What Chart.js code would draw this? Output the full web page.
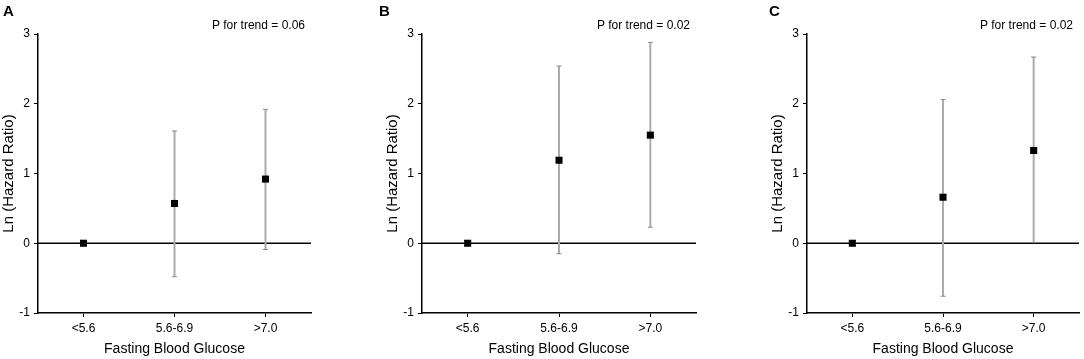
<!DOCTYPE html>
<html>
<head>
<meta charset="utf-8">
<script src="https://cdn.jsdelivr.net/npm/chart.js@4.4.1/dist/chart.umd.min.js"></script>
<style>
  body { margin: 0; background: #fff; width: 1084px; height: 359px; position: relative; overflow: hidden; }
  .panel { position: absolute; top: 0; width: 384px; height: 359px; }
  .letter { position: absolute; top: 2px; font: bold 15px 'Liberation Sans', Arial, sans-serif; color: #000; }
</style>
</head>
<body>
<div class="panel" style="left:0"><canvas id="chartA"></canvas></div>
<div class="panel" style="left:384px"><canvas id="chartB"></canvas></div>
<div class="panel" style="left:769px; width:315px"><canvas id="chartC"></canvas></div>
<div class="letter" style="left:3px">A</div>
<div class="letter" style="left:379px">B</div>
<div class="letter" style="left:769px">C</div>
<script>
const categories = ['<5.6', '5.6-6.9', '>7.0'];
const yTicks = [-1, 0, 1, 2, 3];

// panel A
const hrA = [0, 0.57, 0.92];
const lowA = [null, -0.48, -0.09];
const upA = [null, 1.61, 1.92];
// panel B
const hrB = [0, 1.19, 1.55];
const lowB = [null, -0.15, 0.23];
const upB = [null, 2.54, 2.88];
// panel C
const hrC = [0, 0.66, 1.33];
const lowC = [null, -0.76, 0.01];
const upC = [null, 2.06, 2.67];

const pTrend = ['P for trend = 0.06', 'P for trend = 0.02', 'P for trend = 0.02'];

const FONT = "'Liberation Sans', Arial, sans-serif";

// error bars + zero line + p-value text
const extras = {
  id: 'extras',
  beforeDatasetsDraw(chart, args, opts) {
    const { ctx, chartArea } = chart;
    const x = chart.scales.x, y = chart.scales.y;
    ctx.save();
    // zero reference line
    const y0 = y.getPixelForValue(0);
    ctx.strokeStyle = '#000';
    ctx.lineWidth = 1.5;
    ctx.beginPath();
    ctx.moveTo(chartArea.left, y0);
    ctx.lineTo(chartArea.right, y0);
    ctx.stroke();
    // whiskers
    opts.low.forEach((lo, i) => {
      if (lo === null) return;
      const px = x.getPixelForValue(i);
      const pLo = y.getPixelForValue(lo);
      const pUp = y.getPixelForValue(opts.up[i]);
      ctx.strokeStyle = '#ababab';
      ctx.lineWidth = 2;
      ctx.beginPath();
      ctx.moveTo(px, pLo);
      ctx.lineTo(px, pUp);
      ctx.stroke();
      ctx.strokeStyle = '#8a8a8a';
      ctx.lineWidth = 1;
      ctx.beginPath();
      ctx.moveTo(px - 2.5, pLo); ctx.lineTo(px + 2.5, pLo);
      ctx.moveTo(px - 2.5, pUp); ctx.lineTo(px + 2.5, pUp);
      ctx.stroke();
    });
    // p for trend
    ctx.fillStyle = '#000';
    ctx.font = '12px ' + FONT;
    ctx.textAlign = 'right';
    ctx.textBaseline = 'middle';
    ctx.fillText(opts.text, chartArea.right - 6, 26);
    ctx.restore();
  }
};

function makeChart(id, hr, low, up, text, rightPad) {
  return new Chart(document.getElementById(id), {
    type: 'line',
    data: {
      labels: categories,
      datasets: [{
        data: hr,
        showLine: false,
        pointStyle: 'rect',
        pointRadius: 5,
        pointBackgroundColor: '#000',
        pointBorderColor: '#000',
        pointBorderWidth: 0,
      }],
    },
    options: {
      responsive: false,
      animation: false,
      layout: { padding: { left: 0, right: rightPad, top: 34, bottom: 0 } },
      plugins: {
        legend: { display: false },
        tooltip: { enabled: false },
        extras: { low: low, up: up, text: text },
      },
      scales: {
        x: {
          type: 'category',
          offset: true,
          grid: { display: true, drawOnChartArea: false, drawTicks: true, tickLength: 4, color: '#000', lineWidth: 1, offset: false },
          border: { display: true, color: '#000', width: 1.5 },
          ticks: { color: '#000', font: { family: FONT, size: 12 }, padding: 4, maxRotation: 0 },
          title: { display: true, text: 'Fasting Blood Glucose', color: '#000', font: { family: FONT, size: 14 }, padding: { top: 0, bottom: 1 } },
          afterFit: (s) => { s.height = 46; },
        },
        y: {
          min: -1,
          max: 3,
          afterBuildTicks: (s) => { s.ticks = yTicks.map((v) => ({ value: v })); },
          grid: { display: true, drawOnChartArea: false, drawTicks: true, tickLength: 4, color: '#000', lineWidth: 1 },
          border: { display: true, color: '#000', width: 1.5 },
          ticks: { color: '#000', font: { family: FONT, size: 12 }, padding: 4 },
          title: { display: true, text: 'Ln (Hazard Ratio)', color: '#000', font: { family: FONT, size: 15 }, padding: { top: 0, bottom: 0 } },
          afterFit: (s) => { s.width = 38; },
        },
      },
    },
    plugins: [extras],
  });
}

function sizeCanvas(id, w) {
  const c = document.getElementById(id);
  c.width = w; c.height = 359;
  c.style.width = w + 'px'; c.style.height = '359px';
}
sizeCanvas('chartA', 384);
sizeCanvas('chartB', 384);
sizeCanvas('chartC', 315);

makeChart('chartA', hrA, lowA, upA, pTrend[0], 73);
makeChart('chartB', hrB, lowB, upB, pTrend[1], 72);
makeChart('chartC', hrC, lowC, upC, pTrend[2], 3);
</script>
</body>
</html>
